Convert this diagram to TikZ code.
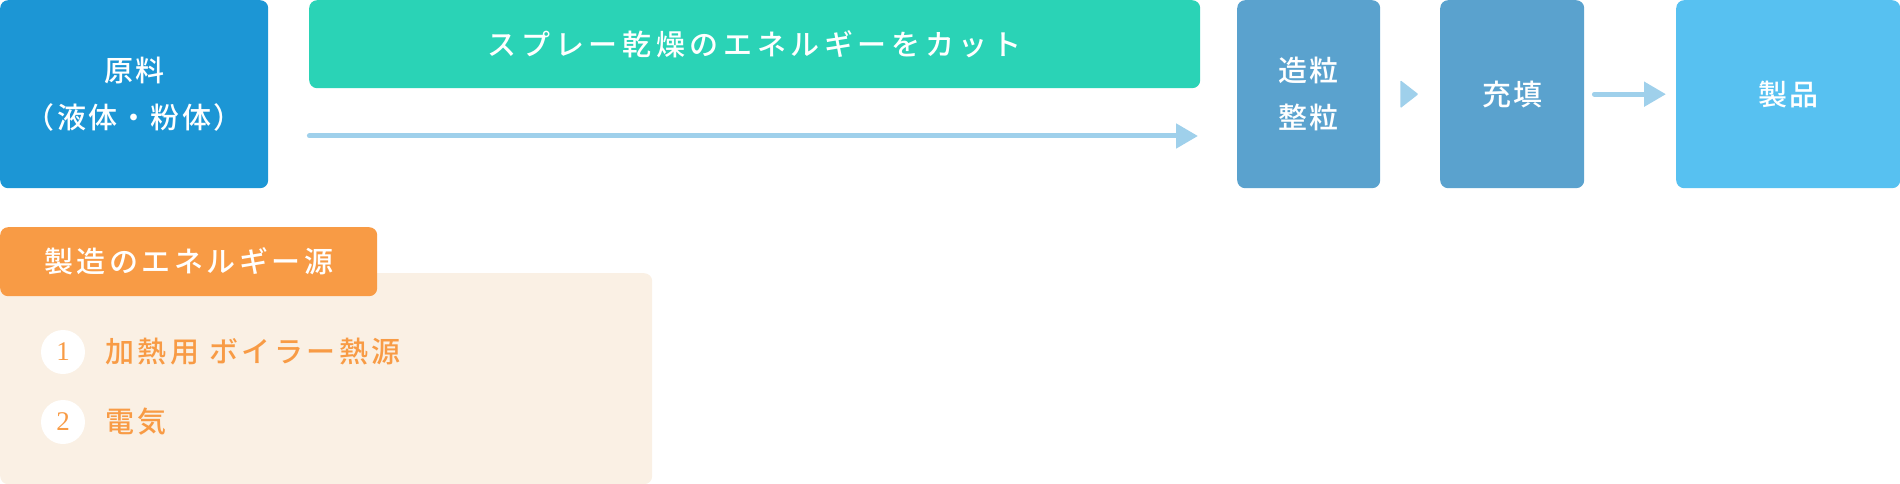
\documentclass[tikz,border=0pt]{standalone}
\usepackage{fontspec}
\setmainfont{Liberation Serif}
\newfontfamily\jpfont[LetterSpace=8]{Noto Sans CJK JP Medium}
\newfontfamily\jplist[LetterSpace=12]{Noto Sans CJK JP Medium}
\newfontfamily\jpwide[LetterSpace=16]{Noto Sans CJK JP Medium}
\usetikzlibrary{arrows.meta}
\definecolor{rawblue}{HTML}{1C96D5}
\definecolor{cutgreen}{HTML}{2AD3B6}
\definecolor{stepblue}{HTML}{5AA2CE}
\definecolor{prodblue}{HTML}{57C1F1}
\definecolor{arrowblue}{HTML}{9FD0EB}
\definecolor{tagorange}{HTML}{F89B45}
\definecolor{panelbeige}{HTML}{FAF0E4}
\tikzset{
    box/.style={anchor=north west, inner sep=0pt, rounded corners=8pt,
        text=white, align=center, font=\jpfont\fontsize{29}{47}\selectfont},
    flow/.style={draw=arrowblue, line width=5pt, line cap=round,
        -{Triangle[length=22pt 0, width=24pt 0]}},
    numdot/.style={circle, fill=white, minimum size=44pt, inner sep=0pt,
        text=tagorange, font=\fontsize{27}{27}\selectfont},
    itemtext/.style={anchor=west, inner sep=0pt, text=tagorange,
        font=\jplist\fontsize{29}{29}\selectfont}
}
\begin{document}
\begin{tikzpicture}
    [x=1pt, y=-1pt]
    \useasboundingbox (0,0) rectangle (1900,484);
    \node[box, fill=rawblue, minimum width=268pt, minimum height=188pt]
        (genryo) at (0,0) {原料\\（液体・粉体）};
    \node[box, fill=cutgreen, minimum width=891pt, minimum height=88pt,
        font=\jpwide\fontsize{29}{29}\selectfont]
        (cut) at (309,0) {スプレー乾燥のエネルギーをカット};
    \node[box, fill=stepblue, minimum width=143pt, minimum height=188pt]
        (zoryu) at (1237,0) {造粒\\整粒};
    \node[box, fill=stepblue, minimum width=144pt, minimum height=188pt]
        (juten) at (1440,0) {充填};
    \node[box, fill=prodblue, minimum width=224pt, minimum height=188pt]
        (seihin) at (1676,0) {製品};
    \coordinate (flowrow) at (0,136);
    \draw[flow] ([xshift=41pt]genryo.east |- flowrow)
        -- ([xshift=-39pt]zoryu.west |- flowrow);
    \fill[arrowblue, rounded corners=1pt] ([xshift=20pt, yshift=-14pt]zoryu.east)
        -- ++(18,-14) -- ++(-18,-14) -- cycle;
    \draw[flow, shorten <=10pt, shorten >=10pt] (juten) -- (seihin);
    \node[box, fill=panelbeige, minimum width=652pt, minimum height=211pt]
        (panel) at (0,273) {};
    \node[box, fill=tagorange, minimum width=377pt, minimum height=69pt,
        font=\jplist\fontsize{29}{29}\selectfont]
        (tag) at (0,227) {製造のエネルギー源};
    \node[numdot] (num1) at (63,352) {1};
    \node[numdot] (num2) at (63,422) {2};
    \node[itemtext] (item1) at (105,352) {加熱用 ボイラー熱源};
    \node[itemtext] (item2) at (105,422) {電気};
\end{tikzpicture}
\end{document}
